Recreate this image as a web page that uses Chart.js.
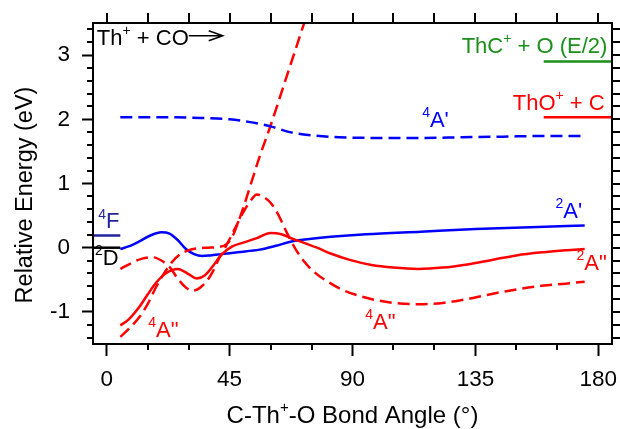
<!DOCTYPE html>
<html>
<head>
<meta charset="utf-8">
<script src="https://cdn.jsdelivr.net/npm/chart.js@4.4.1/dist/chart.umd.min.js"></script>
<style>
  html, body { margin: 0; padding: 0; background: #fff; }
  canvas { display: block; }
</style>
</head>
<body>
<canvas id="pes" width="620" height="429"></canvas>
<script>
/* Th+ + CO potential energy surfaces vs C-Th+-O bond angle */

const FONT = "'Liberation Sans', Arial, sans-serif";

// ── Axis ticks ─────────────────────────────────────────────────────────────
const xTicks = [0, 45, 90, 135, 180];
const yTicks = [-1, 0, 1, 2, 3];

// ── Surfaces (angle in degrees, energy in eV) ──────────────────────────────
// 2A' (blue, solid)
const angle2Ap  = [5, 8, 12, 16, 20, 23, 26, 29, 32, 35, 38, 42, 48, 56, 62, 68, 75, 82, 95, 115, 135, 155, 175];
const energy2Ap = [-0.02, 0.02, 0.10, 0.19, 0.24, 0.22, 0.12, -0.02, -0.10, -0.13, -0.12, -0.10, -0.07, -0.03, 0.03, 0.10, 0.14, 0.17, 0.21, 0.25, 0.29, 0.32, 0.345];

// 4A' (blue, dashed)
const angle4Ap  = [5, 15, 25, 35, 45, 52, 60, 67, 75, 85, 100, 115, 130, 145, 160, 175];
const energy4Ap = [2.03, 2.03, 2.03, 2.02, 2.00, 1.96, 1.89, 1.80, 1.75, 1.72, 1.71, 1.71, 1.72, 1.73, 1.74, 1.74];

// 2A" (red, solid)
const angle2App  = [5, 8, 12, 15, 18, 22, 26, 30, 33, 36, 39, 42, 46, 50, 55, 60, 64, 68, 72, 77, 82, 89, 97, 105, 114, 123, 132, 141, 150, 160, 168, 175];
const energy2App = [-1.21, -1.12, -0.92, -0.73, -0.55, -0.39, -0.33, -0.41, -0.48, -0.43, -0.28, -0.11, 0.02, 0.08, 0.15, 0.23, 0.21, 0.14, 0.08, 0.00, -0.09, -0.19, -0.27, -0.31, -0.33, -0.31, -0.26, -0.19, -0.12, -0.07, -0.04, -0.02];

// 4A" (red, dashed) — branch that dips and ends low at 180°
const angle4AppLow  = [5, 9, 13, 17, 20, 23, 26, 29, 31.5, 34, 37, 39, 41, 44, 47, 50, 53, 55, 57, 60, 63, 66, 69, 72, 76, 81, 86, 95, 105, 114, 123, 132, 141, 150, 160, 168, 175];
const energy4AppLow = [-0.33, -0.24, -0.17, -0.15, -0.20, -0.30, -0.48, -0.62, -0.67, -0.63, -0.50, -0.36, -0.18, 0.05, 0.30, 0.55, 0.75, 0.83, 0.80, 0.70, 0.50, 0.23, -0.01, -0.20, -0.38, -0.53, -0.65, -0.78, -0.86, -0.88, -0.86, -0.80, -0.72, -0.65, -0.59, -0.56, -0.53];

// 4A" (red, dashed) — branch that climbs off the top
const angle4AppHigh  = [5, 8, 12, 15, 18, 21, 24, 27, 30, 33, 37, 41, 44, 46, 48, 50, 53, 56, 60, 66, 72, 75];
const energy4AppHigh = [-1.39, -1.27, -1.08, -0.88, -0.62, -0.40, -0.22, -0.10, -0.04, -0.01, 0.00, 0.01, 0.06, 0.17, 0.38, 0.62, 1.02, 1.42, 1.90, 2.68, 3.46, 3.85];

// ── Asymptote levels (short horizontal bars) ───────────────────────────────
const levelNames  = ['4F', '2D', 'ThC+ + O', 'ThO+ + C'];
const levelFrom   = [-5, -5, 160, 160];
const levelTo     = [5, 5, 185, 185];
const levelEnergy = [0.19, 0.0, 2.90, 2.03];
const levelColors = ['#23239b', '#000000', '#1a8f1a', '#ff0000'];

// ── Text labels (data coords of the text anchor, baseline) ─────────────────
const notes = [
    { parts: [['Th'], ['+', 1], [' + CO']], x: -3.6, y: 3.16, color: '#000', align: 'left', arrow: true },
    { parts: [['ThC'], ['+', 1], [' + O (E/2)']], x: 183.3, y: 3.03, color: '#1a8f1a', align: 'right' },
    { parts: [['ThO'], ['+', 1], [' + C']], x: 182.3, y: 2.14, color: '#ff0000', align: 'right' },
    { parts: [['4', 1], ["A'"]], x: 115.5, y: 1.88, color: '#0000ff', align: 'left' },
    { parts: [['2', 1], ["A'"]], x: 164.3, y: 0.46, color: '#0000ff', align: 'left' },
    { parts: [['2', 1], ['A"']], x: 172.0, y: -0.35, color: '#ff0000', align: 'left' },
    { parts: [['4', 1], ['A"']], x: 94.7, y: -1.27, color: '#ff0000', align: 'left' },
    { parts: [['4', 1], ['A"']], x: 15.2, y: -1.39, color: '#ff0000', align: 'left' },
    { parts: [['4', 1], ['F']], x: -3.1, y: 0.30, color: '#23239b', align: 'left' },
    { parts: [['2', 1], ['D']], x: -4.3, y: -0.27, color: '#000', align: 'left' }
];

// ── Helpers ────────────────────────────────────────────────────────────────
function curve(xs, ys, color, dashed) {
    return {
        data: xs.map((x, i) => ({ x, y: ys[i] })),
        borderColor: color,
        borderWidth: 2.5,
        borderDash: dashed ? [12, 6] : [],
        cubicInterpolationMode: 'monotone',
        pointRadius: 0,
        fill: false
    };
}

function level(i) {
    return {
        data: [{ x: levelFrom[i], y: levelEnergy[i] }, { x: levelTo[i], y: levelEnergy[i] }],
        borderColor: levelColors[i],
        borderWidth: 2.5,
        pointRadius: 0,
        fill: false
    };
}

// draws text with superscript pieces, returns the right edge
function drawRich(ctx, parts, x, y, align, color, size) {
    const supSize = Math.round(size * 0.64);
    let total = 0;
    const w = parts.map(p => {
        ctx.font = `${p[1] ? supSize : size}px ${FONT}`;
        const m = ctx.measureText(p[0]).width;
        total += m;
        return m;
    });
    let cx = align === 'right' ? x - total : align === 'center' ? x - total / 2 : x;
    ctx.fillStyle = color;
    ctx.textAlign = 'left';
    ctx.textBaseline = 'alphabetic';
    parts.forEach((p, i) => {
        ctx.font = `${p[1] ? supSize : size}px ${FONT}`;
        ctx.fillText(p[0], cx, p[1] ? y - size * 0.45 : y);
        cx += w[i];
    });
    return cx;
}

// ── Frame, minor ticks, titles and labels ──────────────────────────────────
const decorations = {
    id: 'decorations',
    afterDraw(chart) {
        const { ctx, chartArea: a, scales: { x, y } } = chart;
        ctx.save();
        ctx.strokeStyle = '#000';
        ctx.lineWidth = 2;
        ctx.strokeRect(a.left, a.top, a.right - a.left, a.bottom - a.top);

        ctx.beginPath();
        // y minor ticks (left) and all ticks (right)
        for (let v = -1.4; v <= 3.41; v += 0.2) {
            const py = Math.round(y.getPixelForValue(v));
            const major = Math.abs(v - Math.round(v)) < 1e-6;
            if (!major) { ctx.moveTo(a.left - 6, py); ctx.lineTo(a.left, py); }
            ctx.moveTo(a.right, py); ctx.lineTo(a.right + 8, py);
        }
        // x minor ticks (bottom) and all ticks (top)
        for (let v = 0; v <= 180; v += 15) {
            const px = Math.round(x.getPixelForValue(v));
            if (v % 45 !== 0) { ctx.moveTo(px, a.bottom); ctx.lineTo(px, a.bottom + 6); }
            ctx.moveTo(px, a.top); ctx.lineTo(px, a.top - 10);
        }
        ctx.stroke();

        // axis titles
        drawRich(ctx, [['C-Th'], ['+', 1], ['-O Bond Angle (°)']], (a.left + a.right) / 2, 423, 'center', '#000', 24);
        ctx.save();
        ctx.translate(31.5, 195);
        ctx.rotate(-Math.PI / 2);
        drawRich(ctx, [['Relative Energy (eV)']], 0, 0, 'center', '#000', 23.5);
        ctx.restore();

        // curve / asymptote labels
        notes.forEach(n => {
            const px = x.getPixelForValue(n.x);
            const py = y.getPixelForValue(n.y);
            const end = drawRich(ctx, n.parts, px, py, n.align, n.color, 22);
            if (n.arrow) {
                const ay = py - 9;
                ctx.strokeStyle = n.color;
                ctx.lineWidth = 1.5;
                ctx.beginPath();
                ctx.moveTo(end, ay); ctx.lineTo(end + 34, ay);
                ctx.moveTo(end + 20, ay - 5); ctx.lineTo(end + 34, ay); ctx.lineTo(end + 20, ay + 5);
                ctx.stroke();
            }
        });
        ctx.restore();
    }
};

// keep the plot box where the reference has it, whatever the label overhang
function pinX(s) { s.height = 85; s.paddingLeft = 0; s.paddingRight = 0; }
function pinY(s) { s.width = 93; s.paddingTop = 0; s.paddingBottom = 0; }

// ── Chart ──────────────────────────────────────────────────────────────────
Chart.defaults.font.family = FONT;

const chart = new Chart(document.getElementById('pes'), {
    type: 'line',
    data: {
        datasets: [
            level(0), level(1), level(2), level(3),
            curve(angle4Ap, energy4Ap, '#0000ff', true),
            curve(angle4AppHigh, energy4AppHigh, '#ff0000', true),
            curve(angle4AppLow, energy4AppLow, '#ff0000', true),
            curve(angle2App, energy2App, '#ff0000', false),
            curve(angle2Ap, energy2Ap, '#0000ff', false)
        ]
    },
    options: {
        responsive: false,
        animation: false,
        devicePixelRatio: 1,
        layout: { padding: { top: 23, right: 8, left: 0, bottom: 0 } },
        plugins: { legend: { display: false }, tooltip: { enabled: false } },
        scales: {
            x: {
                type: 'linear', min: -5, max: 185,
                afterBuildTicks: s => { s.ticks = xTicks.map(v => ({ value: v })); },
                afterFit: pinX,
                border: { display: false },
                grid: { drawOnChartArea: false, drawTicks: true, tickLength: 12, tickWidth: 2, tickColor: '#000' },
                ticks: { color: '#000', font: { size: 22.5 }, padding: 10, maxRotation: 0, autoSkip: false, callback: v => String(v) }
            },
            y: {
                type: 'linear', min: -1.5, max: 3.5,
                afterBuildTicks: s => { s.ticks = yTicks.map(v => ({ value: v })); },
                afterFit: pinY,
                border: { display: false },
                grid: { drawOnChartArea: false, drawTicks: true, tickLength: 11, tickWidth: 2, tickColor: '#000' },
                ticks: { color: '#000', font: { size: 22.5 }, padding: 12, autoSkip: false, callback: v => String(v) }
            }
        }
    },
    plugins: [decorations]
});
</script>
</body>
</html>
